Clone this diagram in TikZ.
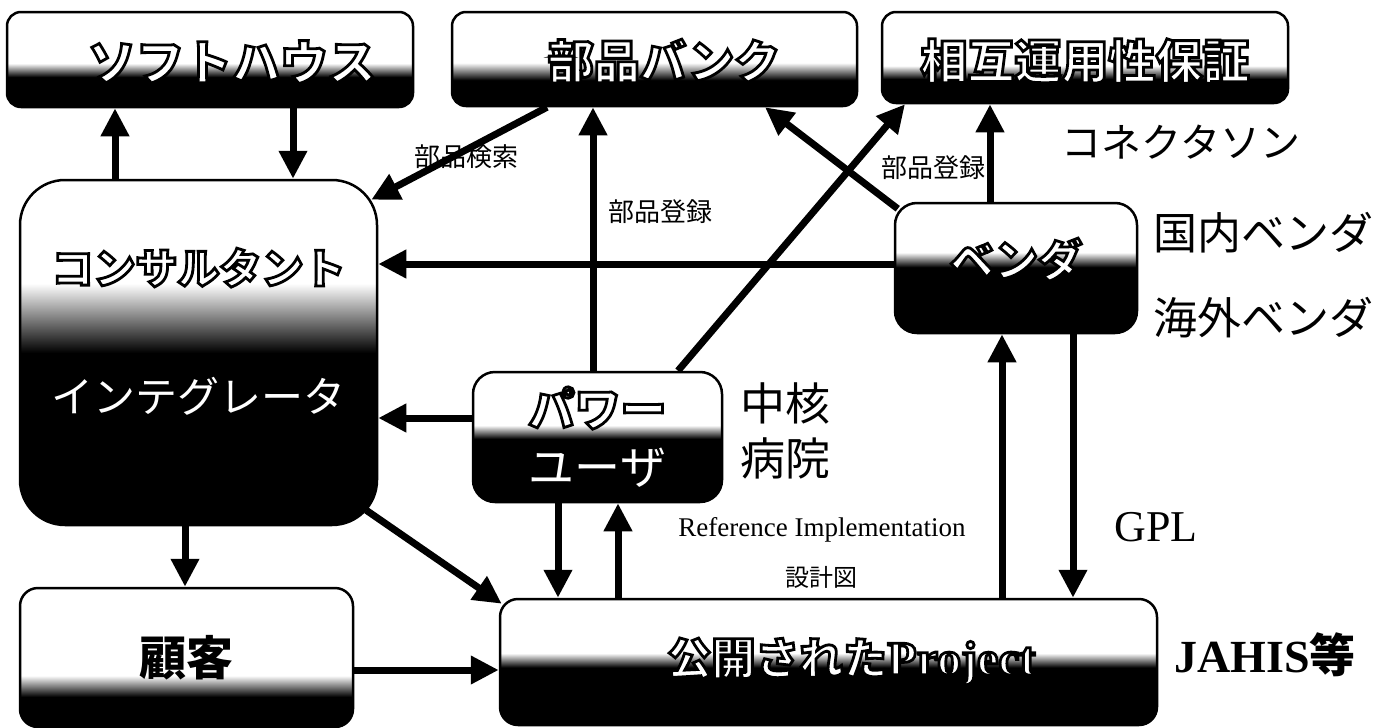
\documentclass[tikz,border=0pt]{standalone}
\usepackage{fontspec}
\setmainfont{Liberation Serif}
\newfontfamily\jp{Noto Sans CJK JP}
\usetikzlibrary{arrows.meta,calc}
\newcommand{\olt}[1]{\special{pdf:literal direct 2 Tr 2.8 w 0 G}#1\special{pdf:literal direct 0 Tr}}
\newcommand{\fs}[1]{\fontsize{#1}{#1}\selectfont}
\begin{document}
\begin{tikzpicture}[x=1pt,y=-1pt,
  arr/.style={line width=7pt,-{Triangle[width=27pt,length=28pt]}},
  gbox/.style 2 args={draw=black,fill=white,line width=2.5pt,inner sep=0pt,
    path picture={
      \fill[black,sharp corners] let \p1=(path picture bounding box.south west),\p2=(path picture bounding box.north east) in (\x1,\y1) rectangle (\x2,{\y1+#1*(\y2-\y1)});
      \shade[top color=white,bottom color=black,sharp corners] let \p1=(path picture bounding box.south west),\p2=(path picture bounding box.north east) in (\x1,{\y1+#1*(\y2-\y1)-0.5pt}) rectangle (\x2,{\y1+#2*(\y2-\y1)});
    }},
  lab/.style={text=black,inner sep=0pt},
]
\fill[white] (0,0) rectangle (1395,728);
\useasboundingbox (0,0) rectangle (1395,728);

% boxes
\node[gbox={0.32}{0.46},rounded corners=14pt,minimum width=406pt,minimum height=95pt,text=white,font=\jp\bfseries\fs{48},text height=41.5pt,text depth=0pt] (soft) at (210,59.5) {\hspace*{44pt}\olt{ソフトハウス}};
\node[gbox={0.28}{0.46},rounded corners=14pt,minimum width=405pt,minimum height=94pt,text=white,font=\jp\bfseries\fs{46},text height=39pt,text depth=0pt] (bank) at (654.5,59) {\hspace*{19pt}\olt{部品バンク}};
\node[gbox={0.27}{0.41},rounded corners=14pt,minimum width=406pt,minimum height=91pt,text=white,font=\jp\bfseries\fs{47},text height=42.7pt,text depth=0pt] (sogo) at (1085,57.5) {\olt{相互運用性保証}};
\node[gbox={0.50}{0.70},rounded corners=45pt,minimum width=357pt,minimum height=345pt,text=white,align=center,font=\jp\fs{42}] (cons) at (198.5,352.5) {{\bfseries\olt{コンサルタント}}\\[87pt]インテグレータ\\[2pt]\mbox{}};
\node[gbox={0.51}{0.62},rounded corners=22pt,minimum width=242pt,minimum height=130pt,text=white,font=\jp\bfseries\fs{44},text height=17.4pt,text depth=0pt] (vend) at (1016,268) {\olt{ベンダ}};
\node[gbox={0.49}{0.59},rounded corners=22pt,minimum width=249pt,minimum height=130pt,text=white,align=center,font=\jp\fs{46}] (power) at (597.5,437) {{\bfseries\olt{パワー}}\\[12pt]ユーザ};
\node[gbox={0.22}{0.37},rounded corners=18pt,minimum width=333pt,minimum height=139pt,text=black,font=\jp\bfseries\fs{47},text height=35.7pt,text depth=0pt] (kok) at (186.5,657.5) {顧客};
\node[gbox={0.46}{0.57},rounded corners=18pt,minimum width=657pt,minimum height=126pt,text=white,font=\jp\bfseries\fs{44},text height=25.4pt,text depth=0pt] (proj) at (828.5,662) {\hspace*{46pt}\olt{公開された{\rmfamily\bfseries\fs{48}Project}}};

% labels
\node[lab,font=\jp\fs{26}] (kensaku) at (466,157) {部品検索};
\node[lab,font=\jp\fs{26}] (toroku1) at (660,212) {部品登録};
\node[lab,font=\jp\fs{26}] (toroku2) at (933,168) {部品登録};
\node[lab,font=\jp\fs{40}] (konekuta) at (1181,142) {コネクタソン};
\node[lab,font=\jp\fs{44}] (kokunai) at (1263,233) {国内ベンダ};
\node[lab,font=\jp\fs{44}] (kaigai) at (1263,318) {海外ベンダ};
\node[lab,font=\jp\fs{45}] (chukaku) at (785,403) {中核};
\node[lab,font=\jp\fs{45}] (byoin) at (785,458) {病院};
\node[lab,font=\fs{27}] (refimpl) at (822,530) {Reference Implementation};
\node[lab,font=\jp\fs{24}] (sekkei) at (821,577) {設計図};
\node[lab,font=\fs{44}] (gpl) at (1156,527) {GPL};
\node[lab,font=\bfseries\fs{46}] (jahis) at (1265,655) {JAHIS{\jp\bfseries 等}};

% x / y guides
\coordinate (x115) at (115,0);
\coordinate (x293) at (293,0);
\coordinate (x547) at (547,0);
\coordinate (x593) at (593,0);
\coordinate (x765) at (765,0);
\coordinate (x678) at (678,0);
\coordinate (x905) at (905,0);
\coordinate (x990) at (990,0);
\coordinate (x185) at (185,0);
\coordinate (x558) at (558,0);
\coordinate (x618) at (618,0);
\coordinate (x1002) at (1002,0);
\coordinate (x1073) at (1073,0);
\coordinate (y264) at (0,264);
\coordinate (y418) at (0,418);
\coordinate (y670) at (0,670);

% connectors
\draw[arr] (cons.north -| x115) -- (soft.south -| x115);
\draw[arr] (soft.south -| x293) -- (cons.north -| x293);
\draw[arr] (bank.south -| x547) -- ([xshift=-7pt,yshift=-21pt]cons.north east);
\draw[arr] (power.north -| x593) -- (bank.south -| x593);
\draw[arr] ([xshift=4pt,yshift=-7pt]vend.north west) -- (bank.south -| x765);
\draw[arr] (power.north -| x678) -- (sogo.south -| x905);
\draw[arr] (vend.north -| x990) -- (sogo.south -| x990);
\draw[arr] (vend.west |- y264) -- (cons.east |- y264);
\draw[arr] (power.west |- y418) -- (cons.east |- y418);
\draw[arr] (cons.south -| x185) -- (kok.north -| x185);
\draw[arr] ([xshift=-12pt,yshift=16pt]cons.south east) -- ([xshift=3pt,yshift=-6pt]proj.north west);
\draw[arr] (power.south -| x558) -- (proj.north -| x558);
\draw[arr] (proj.north -| x618) -- (power.south -| x618);
\draw[arr] (proj.north -| x1002) -- (vend.south -| x1002);
\draw[arr] (vend.south -| x1073) -- (proj.north -| x1073);
\draw[arr] (kok.east |- y670) -- (proj.west |- y670);
\end{tikzpicture}
\end{document}
